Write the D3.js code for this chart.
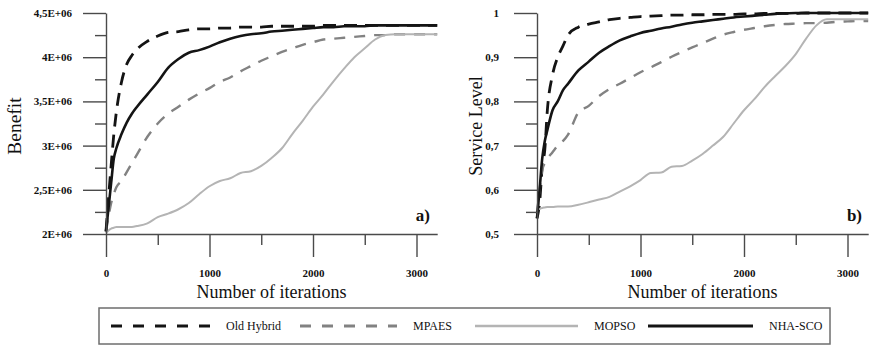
<!DOCTYPE html>
<html>
<head>
<meta charset="utf-8">
<script src="https://cdn.jsdelivr.net/npm/d3@7"></script>
<style>
  body { margin: 0; background: #fff; }
  svg { display: block; font-family: "Liberation Serif", "Times New Roman", serif; }
  svg text { font-family: "Liberation Serif", "Times New Roman", serif; }
</style>
</head>
<body>
<main></main>
<script>
(function(){

  const w = 870,
    h = 346;

  // DATA
  const iterations = [0, 25, 50, 75, 100, 150, 200, 250, 300, 400, 500, 600, 700, 800, 900, 1000,
    1100, 1200, 1300, 1400, 1500, 1600, 1700, 1800, 1900, 2000, 2100, 2200, 2300, 2400, 2500,
    2600, 2700, 2800, 2900, 3000, 3100, 3200];

  const seriesNames = ["Old Hybrid", "MPAES", "MOPSO", "NHA-SCO"];

  // benefit, in millions
  const benefitOldHybrid = [2.03, 2.42, 2.78, 3.12, 3.38, 3.72, 3.92, 4.02, 4.09, 4.18, 4.24, 4.28, 4.29, 4.31, 4.32, 4.32,
    4.33, 4.33, 4.34, 4.34, 4.34, 4.35, 4.35, 4.35, 4.35, 4.35, 4.36, 4.36, 4.36, 4.36, 4.36,
    4.36, 4.36, 4.36, 4.36, 4.36, 4.36, 4.36];
  const benefitMPAES = [2.03, 2.2, 2.35, 2.45, 2.53, 2.6, 2.7, 2.8, 2.9, 3.1, 3.25, 3.36, 3.44, 3.52, 3.59, 3.65,
    3.72, 3.77, 3.84, 3.9, 3.96, 4.01, 4.06, 4.1, 4.14, 4.17, 4.2, 4.21, 4.22, 4.23, 4.24,
    4.25, 4.25, 4.26, 4.26, 4.26, 4.26, 4.26];
  const benefitMOPSO = [2.01, 2.04, 2.06, 2.07, 2.08, 2.08, 2.08, 2.08, 2.09, 2.12, 2.19, 2.23, 2.28, 2.35, 2.45, 2.54,
    2.6, 2.63, 2.69, 2.71, 2.77, 2.86, 2.97, 3.13, 3.28, 3.44, 3.58, 3.73, 3.87, 4.0, 4.1,
    4.2, 4.25, 4.26, 4.26, 4.26, 4.26, 4.26];
  const benefitNHASCO = [2.03, 2.3, 2.58, 2.85, 2.97, 3.13, 3.26, 3.36, 3.44, 3.58, 3.72, 3.88, 3.98, 4.05, 4.08, 4.12,
    4.17, 4.21, 4.24, 4.26, 4.27, 4.29, 4.3, 4.31, 4.32, 4.33, 4.34, 4.34, 4.35, 4.35, 4.35,
    4.36, 4.36, 4.36, 4.36, 4.36, 4.36, 4.36];

  const serviceOldHybrid = [0.535, 0.57, 0.65, 0.69, 0.78, 0.86, 0.9, 0.925, 0.95, 0.968, 0.975, 0.98, 0.985, 0.988, 0.99, 0.992,
    0.993, 0.994, 0.995, 0.995, 0.996, 0.996, 0.997, 0.997, 0.997, 0.998, 0.998, 0.999, 0.999, 0.999, 0.999,
    1.0, 1.0, 1.0, 1.0, 1.0, 1.0, 1.0];
  const serviceMPAES = [0.545, 0.6, 0.645, 0.66, 0.67, 0.685, 0.7, 0.71, 0.725, 0.775, 0.79, 0.812, 0.828, 0.84, 0.853, 0.866,
    0.877, 0.889, 0.901, 0.912, 0.922, 0.932, 0.942, 0.951, 0.957, 0.962, 0.966, 0.97, 0.973, 0.975, 0.976,
    0.977, 0.977, 0.978, 0.98, 0.981, 0.982, 0.982];
  const serviceMOPSO = [0.554, 0.557, 0.559, 0.56, 0.561, 0.561, 0.562, 0.562, 0.562, 0.566, 0.572, 0.578, 0.584, 0.596, 0.608, 0.622,
    0.638, 0.639, 0.652, 0.654, 0.666, 0.681, 0.7, 0.72, 0.75, 0.78, 0.805, 0.833, 0.857, 0.88, 0.907,
    0.942, 0.972, 0.986, 0.986, 0.986, 0.986, 0.986];
  const serviceNHASCO = [0.536, 0.6, 0.67, 0.71, 0.735, 0.78, 0.8, 0.825, 0.84, 0.87, 0.89, 0.91, 0.925, 0.938, 0.947, 0.955,
    0.96, 0.965, 0.969, 0.974, 0.978, 0.981, 0.984, 0.987, 0.99, 0.992, 0.994, 0.996, 0.998, 0.999, 1.0,
    1.0, 1.0, 1.0, 1.0, 1.0, 1.0, 1.0];

  const xTicks = [0, 1000, 2000, 3000],
    xMinorTicks = [500, 1500, 2500];
  const benefitTicks = [2, 2.5, 3, 3.5, 4, 4.5],
    benefitMinorTicks = [2.25, 2.75, 3.25, 3.75, 4.25];
  const serviceTicks = [0.5, 0.6, 0.7, 0.8, 0.9, 1],
    serviceMinorTicks = [0.55, 0.65, 0.75, 0.85, 0.95];

  // STYLES
  const styles = {
    "Old Hybrid": { color: "#141414", width: 2.8, dash: "13,8" },
    "MPAES": { color: "#828282", width: 2.4, dash: "11,9" },
    "MOPSO": { color: "#b4b4b4", width: 2, dash: null },
    "NHA-SCO": { color: "#141414", width: 2.6, dash: null }
  };

  const svg = d3.select("main")
    .append("svg")
    .attr("width", w)
    .attr("height", h);

  const commaFmt = (v) => String(v).replace(".", ",");

  const panels = [
    {
      x0: 106, x1: 437.2, domain: [2, 4.5], ticks: benefitTicks, minor: benefitMinorTicks,
      fmt: (v) => commaFmt(v) + "E+06", pad: 11, title: "Benefit", titleSize: 19.5, titleX: 21, tag: "a)", tagX: 430,
      data: [benefitOldHybrid, benefitMPAES, benefitMOPSO, benefitNHASCO]
    },
    {
      x0: 537, x1: 868.2, domain: [0.5, 1], ticks: serviceTicks, minor: serviceMinorTicks,
      fmt: commaFmt, pad: 15, title: "Service Level", titleSize: 18, titleX: 482, tag: "b)", tagX: 862,
      data: [serviceOldHybrid, serviceMPAES, serviceMOPSO, serviceNHASCO]
    }
  ];

  const yTop = 13, yBottom = 234;

  panels.forEach((p) => {
    const x = d3.scaleLinear().domain([0, 3200]).range([p.x0, p.x1]);
    const y = d3.scaleLinear().domain(p.domain).range([yBottom, yTop]);

    // LINES
    const line = d3.line()
      .x((d) => x(d[0]))
      .y((d) => y(d[1]))
      .curve(d3.curveMonotoneX);

    seriesNames.forEach((name, i) => {
      const s = styles[name];
      svg.append("path")
        .datum(iterations.map((it, j) => [it, p.data[i][j]]))
        .attr("fill", "none")
        .attr("stroke", s.color)
        .attr("stroke-width", s.width)
        .attr("stroke-dasharray", s.dash)
        .attr("d", line);
    });

    // AXES
    const yAxis = svg.append("g")
      .attr("transform", "translate(" + p.x0 + ",0)")
      .call(d3.axisLeft(y).tickValues(p.ticks).tickFormat(p.fmt).tickSizeInner(23).tickSizeOuter(0).tickPadding(p.pad));
    svg.append("g")
      .attr("transform", "translate(" + p.x0 + ",0)")
      .call(d3.axisLeft(y).tickValues(p.minor).tickFormat("").tickSize(11))
      .call((g) => g.select(".domain").remove());

    const xAxis = svg.append("g")
      .attr("transform", "translate(0," + yBottom + ")")
      .call(d3.axisBottom(x).tickValues(xTicks).tickFormat((d) => String(d)).tickSizeInner(23).tickSizeOuter(0).tickPadding(12));
    svg.append("g")
      .attr("transform", "translate(0," + yBottom + ")")
      .call(d3.axisBottom(x).tickValues(xMinorTicks).tickFormat("").tickSize(11))
      .call((g) => g.select(".domain").remove());

    svg.selectAll(".domain, .tick line")
      .attr("stroke", "#4a4a4a")
      .attr("stroke-width", 1.4);
    [yAxis, xAxis].forEach((g) => {
      g.attr("font-family", null);
      g.selectAll(".tick text")
        .attr("font-size", 11)
        .attr("font-weight", "bold")
        .attr("fill", "#111");
    });

    // TITLES
    svg.append("text")
      .attr("x", (p.x0 + p.x1) / 2)
      .attr("y", 298)
      .attr("text-anchor", "middle")
      .attr("font-size", 18)
      .attr("fill", "#111")
      .text("Number of iterations");

    svg.append("text")
      .attr("transform", "translate(" + p.titleX + ",126) rotate(-90)")
      .attr("text-anchor", "middle")
      .attr("font-size", p.titleSize)
      .attr("fill", "#111")
      .text(p.title);

    svg.append("text")
      .attr("x", p.tagX)
      .attr("y", 221)
      .attr("text-anchor", "end")
      .attr("font-size", 17)
      .attr("font-weight", "bold")
      .attr("fill", "#111")
      .text(p.tag);
  });

  // LEGEND
  const legend = svg.append("g");
  legend.append("rect")
    .attr("x", 99)
    .attr("y", 308)
    .attr("width", 731)
    .attr("height", 36)
    .attr("fill", "#fff")
    .attr("stroke", "#6e6e6e")
    .attr("stroke-width", 1.5);

  const legendX = [111, 300, 475, 648],
    legendLen = [99, 97, 103, 105];
  seriesNames.forEach((name, i) => {
    const s = styles[name];
    legend.append("line")
      .attr("x1", legendX[i])
      .attr("x2", legendX[i] + legendLen[i])
      .attr("y1", 326)
      .attr("y2", 326)
      .attr("stroke", s.color)
      .attr("stroke-width", s.width + 0.4)
      .attr("stroke-dasharray", s.dash ? "11,11" : null);
    legend.append("text")
      .attr("x", legendX[i] + legendLen[i] + 16)
      .attr("y", 330)
      .attr("font-size", 12)
      .attr("fill", "#111")
      .text(name);
  });

})()
</script>
</body>
</html>
